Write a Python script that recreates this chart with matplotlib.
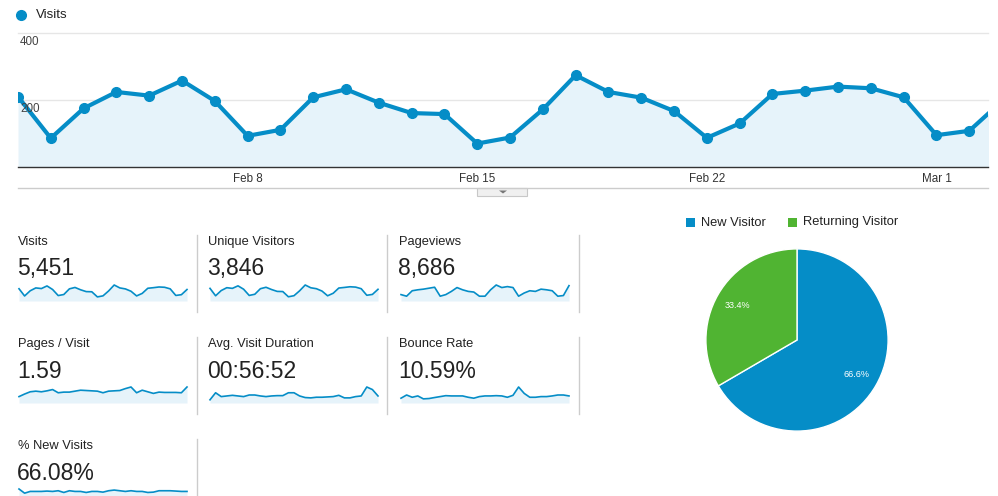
import matplotlib
matplotlib.use("Agg")
import matplotlib.pyplot as plt
from matplotlib.patches import Rectangle, Polygon
from matplotlib.lines import Line2D

plt.rcParams["font.family"] = ["Liberation Sans", "DejaVu Sans"]

W, H = 998, 496
BLUE = "#058dc7"
GREEN = "#50b432"
FILL = "#e6f3fa"
TEXT = "#222222"

# daily visits, Feb 1 .. Mar 3 (last one is clipped by the chart edge)
visits = [210, 86, 175, 224, 213, 258, 197, 93, 111, 208, 232, 192, 161, 158, 70,
          88, 172, 274, 224, 207, 167, 87, 130, 218, 228, 240, 235, 208, 95, 108, 197]
date_ticks = [7, 14, 21, 28]
date_labels = ["Feb 8", "Feb 15", "Feb 22", "Mar 1"]
y_ticks = [200, 400]

unique_visitors = [150, 62, 124, 158, 150, 180, 140, 66, 80, 146, 163, 136, 114, 112, 50,
                   63, 121, 190, 157, 146, 118, 62, 92, 154, 161, 169, 165, 146, 68, 78, 139]
pageviews = [168, 126, 269, 294, 311, 336, 361, 126, 168, 252, 353, 294, 252, 235, 126,
             126, 294, 420, 353, 378, 353, 126, 210, 269, 252, 311, 294, 269, 126, 143, 403]
pages_per_visit = [0.8, 1.12, 1.4, 1.48, 1.4, 1.52, 1.68, 1.28, 1.36, 1.36, 1.48, 1.6, 1.56,
                   1.52, 1.48, 1.28, 1.48, 1.52, 1.56, 1.8, 2.0, 1.28, 1.6, 1.4, 1.2, 1.36,
                   1.32, 1.32, 1.32, 1.28, 2.0]
avg_duration = [1500, 4800, 3000, 3300, 3600, 3300, 3000, 3750, 3750, 3300, 3000, 3300, 3450,
                3450, 4800, 4800, 3300, 2550, 2400, 2700, 2700, 2850, 3000, 3600, 2400, 2400,
                3000, 3300, 7500, 6300, 3300]
bounce_rate = [7.2, 12.0, 8.6, 10.6, 6.2, 6.7, 8.2, 9.6, 11.0, 10.6, 10.6, 10.6, 8.6, 7.2,
               9.6, 10.6, 10.6, 11.0, 10.6, 8.6, 11.5, 24.0, 14.4, 8.6, 8.6, 9.6, 9.6, 10.6,
               12.0, 12.0, 10.6]
new_visits_pct = [77, 56.9, 65.3, 65.3, 65.3, 67, 65.3, 68.6, 60.3, 68.6, 65.3, 65.3, 60.3,
                  65.3, 65.3, 61.9, 68.6, 71.9, 68.6, 65.3, 68.6, 65.3, 65.3, 60.3, 61.9,
                  68.6, 68.6, 68.6, 67, 65.3, 65.3]

metric_names = ["Visits", "Unique Visitors", "Pageviews",
                "Pages / Visit", "Avg. Visit Duration", "Bounce Rate", "% New Visits"]
metric_values = ["5,451", "3,846", "8,686", "1.59", "00:56:52", "10.59%", "66.08%"]
metric_series = [visits, unique_visitors, pageviews, pages_per_visit,
                 avg_duration, bounce_rate, new_visits_pct]

pie_labels = ["New Visitor", "Returning Visitor"]
pie_shares = [66.6, 33.4]
pie_colors = [BLUE, GREEN]


def px(x0, y0, x1, y1):
    # pixel box (top-left origin) -> figure fraction rect
    return [x0 / W, 1 - y1 / H, (x1 - x0) / W, (y1 - y0) / H]


fig = plt.figure(figsize=(W / 100, H / 100), dpi=100)
fig.patch.set_facecolor("white")

# pixel canvas for decorations
deco = fig.add_axes([0, 0, 1, 1])
deco.set_xlim(0, W)
deco.set_ylim(H, 0)
deco.axis("off")
deco.patch.set_alpha(0)

# ---- main visits chart ----
ax = fig.add_axes(px(18, 33, 988, 167))
ax.patch.set_alpha(0)
x = list(range(len(visits)))
ax.fill_between(x, visits, 0, color=FILL, lw=0)
ax.plot(x, visits, color=BLUE, lw=3, marker="o", ms=7, solid_joinstyle="round")
ax.set_xlim(0, 29.57)
ax.set_ylim(0, 400)
for v in y_ticks:
    ax.axhline(v, color="#e6e6e6", lw=1, zorder=0, clip_on=False)
    ax.text(2 / 970, v - 26, str(v), transform=ax.get_yaxis_transform(),
            fontsize=8.4, color="#444444", va="center", ha="left")
for s in ["top", "left", "right"]:
    ax.spines[s].set_visible(False)
ax.spines["bottom"].set_color("#333333")
ax.spines["bottom"].set_linewidth(1)
ax.set_yticks([])
ax.set_xticks(date_ticks)
ax.set_xticklabels(date_labels, fontsize=8.4, color="#333333")
ax.tick_params(axis="x", length=0, pad=4)

# legend for the main chart
deco.add_line(Line2D([21], [15], marker="o", ms=7, color=BLUE, lw=0))
deco.text(36, 15, "Visits", fontsize=9.6, color=TEXT, va="center", ha="left")

# separator under chart and the little drag tab
deco.plot([18, 988], [188, 188], color="#cccccc", lw=1)
deco.add_patch(Rectangle((477, 188), 50, 8, facecolor="#f0f0f0", edgecolor="#c8c8c8", lw=0.8))
deco.add_patch(Polygon([[499, 190.5], [507, 190.5], [503, 193.5]], closed=True,
                       facecolor="#777777", lw=0))

# ---- metric tiles ----
col_x = [18, 208, 399]
spark_x = [(19, 187), (210, 378), (401, 569)]
dividers = [197, 387, 579]
for i, (name, val, series) in enumerate(zip(metric_names, metric_values, metric_series)):
    r, c = divmod(i, 3)
    top = 242 + r * 102
    deco.text(col_x[c], top, name, fontsize=9.3, color=TEXT, va="center", ha="left")
    deco.text(col_x[c] - 1, top + 27, val, fontsize=16.5, color=TEXT, va="center", ha="left")
    sx0, sx1 = spark_x[c]
    sp = fig.add_axes(px(sx0, top + 43, sx1, top + 59))
    sp.patch.set_alpha(0)
    xs = list(range(len(series)))
    sp.fill_between(xs, series, 0, color=FILL, lw=0)
    sp.plot(xs, series, color=BLUE, lw=1.2, clip_on=False)
    sp.set_xlim(0, len(series) - 1)
    sp.set_ylim(0, max(series))
    sp.axis("off")
    deco.plot([dividers[c], dividers[c]], [top - 7, top + 70], color="#cccccc", lw=1)

# ---- pie ----
pa = fig.add_axes(px(797 - 92, 340 - 92, 797 + 92, 340 + 92))
wedges, _, autotexts = pa.pie(pie_shares, colors=pie_colors, startangle=90,
                              counterclock=False, autopct="%1.1f%%", pctdistance=0.75,
                              wedgeprops=dict(edgecolor="white", linewidth=1),
                              textprops=dict(color="white", fontsize=6.5))
pa.set_xlim(-1.01, 1.01)
pa.set_ylim(-1.01, 1.01)

lx = [686, 788]
for c, lab, x0 in zip(pie_colors, pie_labels, lx):
    deco.add_patch(Rectangle((x0, 218), 9, 9, facecolor=c, lw=0))
    deco.text(x0 + 15, 222.5, lab, fontsize=9.3, color=TEXT, va="center", ha="left")

fig.savefig("out.png", dpi=100, facecolor="white")
